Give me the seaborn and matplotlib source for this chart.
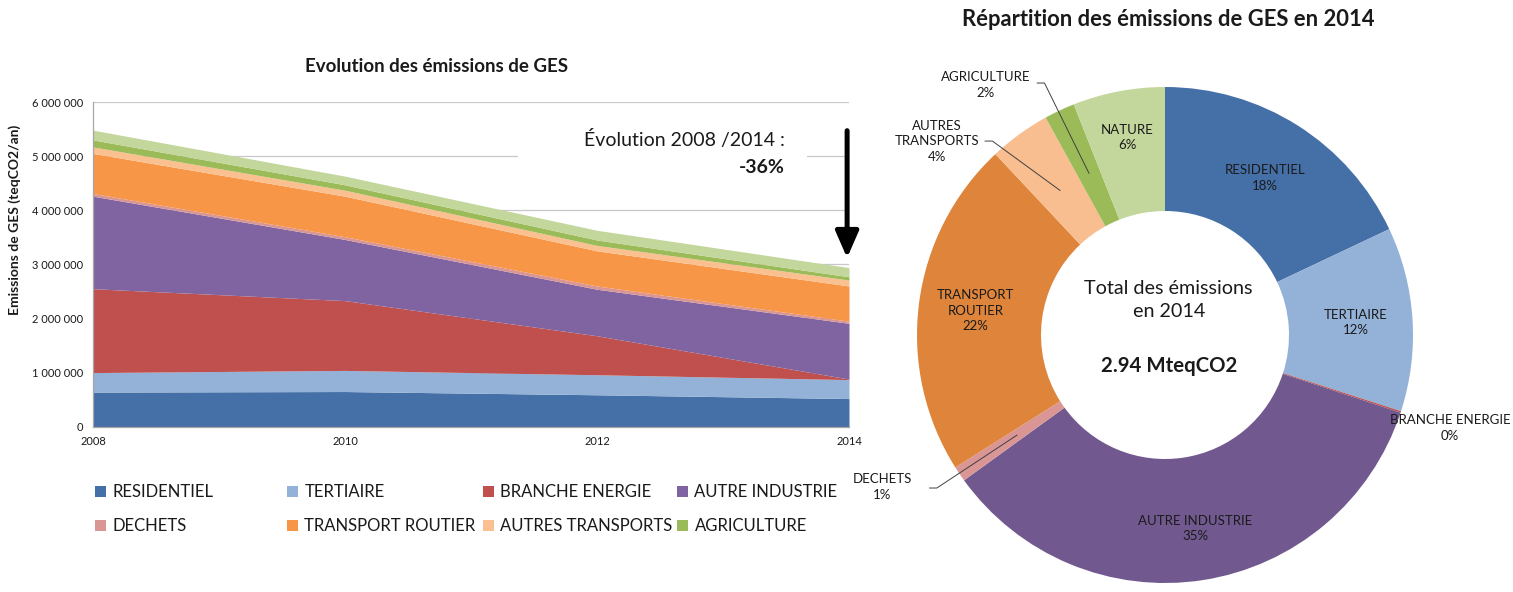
import numpy as np
import pandas as pd
import matplotlib
matplotlib.use("Agg")
import matplotlib.pyplot as plt
import seaborn as sns
from matplotlib.patches import Patch, Rectangle
from matplotlib.ticker import FuncFormatter

# ---------------- data ----------------
years = [2008, 2010, 2012, 2014]
sectors = ["RESIDENTIEL", "TERTIAIRE", "BRANCHE ENERGIE", "AUTRE INDUSTRIE",
           "DECHETS", "TRANSPORT ROUTIER", "AUTRES TRANSPORTS", "AGRICULTURE", "NATURE"]
residentiel = [640000, 650000, 590000, 520000]
tertiaire = [360000, 390000, 370000, 350000]
branche_energie = [1550000, 1290000, 720000, 10000]
autre_industrie = [1710000, 1130000, 860000, 1030000]
dechets = [50000, 50000, 60000, 40000]
transport_routier = [740000, 750000, 650000, 650000]
autres_transports = [120000, 110000, 100000, 110000]
agriculture = [130000, 100000, 100000, 60000]
nature = [180000, 160000, 180000, 170000]
series = [residentiel, tertiaire, branche_energie, autre_industrie, dechets,
          transport_routier, autres_transports, agriculture, nature]
legend_sectors = sectors[:8]

pie_pct = [18, 12, 0.1, 35, 1, 22, 4, 2, 6]
pie_names = ["RESIDENTIEL", "TERTIAIRE", "BRANCHE ENERGIE", "AUTRE INDUSTRIE", "DECHETS",
             "TRANSPORT\nROUTIER", "AUTRES\nTRANSPORTS", "AGRICULTURE", "NATURE"]
evolution_label = "-36%"

area_colors = ["#4570A7", "#94B2D7", "#C0504D", "#8064A2", "#D99694",
               "#F79646", "#FAC090", "#9BBB59", "#C3D69B"]
pie_colors = ["#4570A7", "#94B2D7", "#C0504D", "#71598F", "#D99694",
              "#DE853B", "#F8BE90", "#9BBB59", "#C3D69B"]

# ---------------- style ----------------
sns.set_theme(style="white")
plt.rcParams["font.family"] = ["Lato", "DejaVu Sans"]
TXT = "#1a1a1a"

W, H = 1513, 592
fig = plt.figure(figsize=(W / 100, H / 100), dpi=100)

# ---------------- area chart ----------------
ax = fig.add_axes([93 / W, (H - 426.7) / H, 756 / W, 324.7 / H])
df = pd.DataFrame({"year": years})
for name, vals in zip(sectors, series):
    df[name] = vals
ax.stackplot(df["year"], *[df[s] for s in sectors], colors=area_colors, linewidth=0, zorder=2)
ax.set_xlim(2008, 2014)
ax.set_ylim(0, 6e6)
ax.set_xticks([2008, 2010, 2012, 2014])
ax.set_yticks(np.arange(0, 6e6 + 1, 1e6))
ax.yaxis.set_major_formatter(FuncFormatter(lambda v, _: f"{int(v):,}".replace(",", " ")))
ax.set_axisbelow(True)
ax.yaxis.grid(True, color="#C8C8C8", lw=0.9)
ax.xaxis.grid(False)
for s in ["top", "right"]:
    ax.spines[s].set_visible(False)
for s in ["left", "bottom"]:
    ax.spines[s].set_color("#A6A6A6")
    ax.spines[s].set_linewidth(0.9)
ax.tick_params(axis="both", direction="out", length=4, width=0.8, color="#A6A6A6",
               labelsize=8, labelcolor=TXT, pad=3)
ax.set_xlabel("")
ax.set_ylabel("")

# white box under annotation (breaks the 5M gridline)
ax.add_patch(Rectangle((2011.37, 4.85e6), 2.30, 0.8e6, facecolor="white",
                       edgecolor="none", zorder=1.5))
ax.text(2013.49, 5.30e6, "Évolution 2008 /2014 :", ha="right", va="center",
        fontsize=14, color=TXT, zorder=5)
ax.text(2013.49, 4.79e6, evolution_label, ha="right", va="center",
        fontsize=14, fontweight="bold", color=TXT, zorder=5)
ax.annotate("", xy=(2013.985, 3.12e6), xytext=(2013.985, 5.47e6),
            arrowprops=dict(arrowstyle="-|>,head_length=1.6,head_width=0.7",
                            lw=3.6, color="black", shrinkA=0, shrinkB=0,
                            mutation_scale=10),
            annotation_clip=False, zorder=6)

fig.text(437 / W, 1 - 67 / H, "Evolution des émissions de GES", ha="center", va="center",
         fontsize=13.5, fontweight="bold", color=TXT)
fig.text(15 / W, 1 - 220 / H, "Emissions de GES (teqCO2/an)", ha="center", va="center",
         rotation=90, fontsize=10, fontweight="bold", color=TXT)

# legend: 4 columns, 2 rows
col_x = [95, 287, 483, 677]
for c in range(4):
    names = [legend_sectors[c], legend_sectors[c + 4]]
    cols = [area_colors[c], area_colors[c + 4]]
    handles = [Patch(facecolor=col, edgecolor="none", label=n) for n, col in zip(names, cols)]
    fig.legend(handles=handles, loc="upper left", bbox_to_anchor=(col_x[c] / W, 1 - 484 / H),
               frameon=False, fontsize=12, handlelength=0.65, handleheight=0.65,
               handletextpad=0.4, labelspacing=1.1, borderpad=0, borderaxespad=0,
               labelcolor=TXT)

# ---------------- donut chart ----------------
R = 248.0
half = 330.0
pax = fig.add_axes([(1165 - half) / W, (H - 335 - half) / H, 2 * half / W, 2 * half / H])
wedges, _ = pax.pie(pie_pct, colors=pie_colors, startangle=90, counterclock=False, radius=1,
                    wedgeprops=dict(width=0.5, edgecolor="none", linewidth=0))
L = half / R
pax.set_xlim(-L, L)
pax.set_ylim(-L, L)
pax.set_aspect("equal")
pax.axis("off")

total = sum(pie_pct)
cum = np.cumsum([0] + pie_pct[:-1])
mid_ang = [np.deg2rad(90 - 360 * (c + v / 2) / total) for c, v in zip(cum, pie_pct)]
labels = [f"{n}\n{round(v)}%" for n, v in zip(pie_names, pie_pct)]

inside = {0: 0.75, 1: 0.77, 3: 0.79, 5: 0.77, 8: 0.81}
for i, r in inside.items():
    pax.text(r * np.cos(mid_ang[i]), r * np.sin(mid_ang[i]), labels[i], ha="center",
             va="center", fontsize=9.5, color=TXT, linespacing=1.35)

# outside labels with leaders
out = {2: (1.149, -0.375, None),
       4: (-1.141, -0.613, (-0.95, -0.617)),
       6: (-0.919, 0.782, (-0.726, 0.782)),
       7: (-0.722, 1.008, (-0.516, 1.016))}
for i, (tx, ty, lead) in out.items():
    pax.text(tx, ty, labels[i], ha="center", va="center", fontsize=9.5, color=TXT,
             linespacing=1.35, clip_on=False)
    if lead is not None:
        ex, ey = 0.72 * np.cos(mid_ang[i]), 0.72 * np.sin(mid_ang[i])
        pax.plot([lead[0], lead[0] + 0.03, ex], [lead[1], lead[1], ey], color="#404040",
                 lw=0.7, clip_on=False)

total_2014 = sum(s[-1] for s in series) / 1e6
pax.text(0.015, 0.14, "Total des émissions\nen 2014", ha="center", va="center",
         fontsize=14.2, color=TXT, linespacing=1.45)
pax.text(0.015, -0.125, f"{total_2014:.2f} MteqCO2", ha="center", va="center",
         fontsize=14.7, fontweight="bold", color=TXT)

fig.text(1168 / W, 1 - 20 / H, "Répartition des émissions de GES en 2014", ha="center",
         va="center", fontsize=15.8, fontweight="bold", color=TXT)

fig.savefig("out.png", dpi=100, facecolor="white")
